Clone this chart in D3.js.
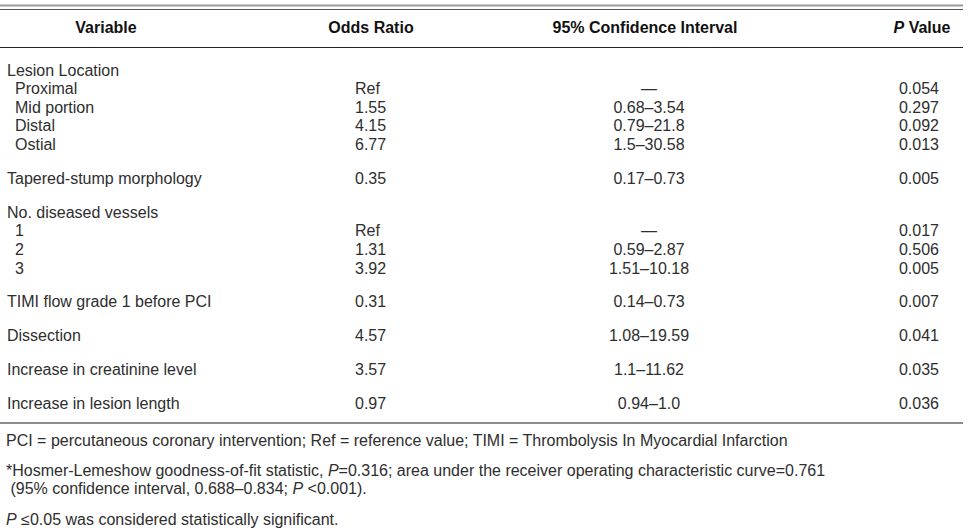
<!DOCTYPE html>
<html>
<head>
<meta charset="utf-8">
<script src="https://cdn.jsdelivr.net/npm/d3@7"></script>
<style>
  html, body { margin: 0; padding: 0; background: #fff; }
  svg { display: block; font-family: "Liberation Sans", Arial, Helvetica, sans-serif; }
</style>
</head>
<body>
<svg id="chart" width="972" height="530"></svg>
<script>
// ---- data ----
const headers = ["Variable", "Odds Ratio", "95% Confidence Interval", "P Value"];
// level: 0 = group / standalone variable, 1 = sub-item; block: index of row block
const variables = ["Lesion Location", "Proximal", "Mid portion", "Distal", "Ostial",
  "Tapered-stump morphology",
  "No. diseased vessels", "1", "2", "3",
  "TIMI flow grade 1 before PCI", "Dissection", "Increase in creatinine level", "Increase in lesion length"];
const levels = [0, 1, 1, 1, 1, 0, 0, 1, 1, 1, 0, 0, 0, 0];
const blocks = [0, 0, 0, 0, 0, 1, 2, 2, 2, 2, 3, 4, 5, 6];
const oddsRatios = ["", "Ref", "1.55", "4.15", "6.77", "0.35", "", "Ref", "1.31", "3.92", "0.31", "4.57", "3.57", "0.97"];
const confIntervals = ["", "—", "0.68–3.54", "0.79–21.8", "1.5–30.58", "0.17–0.73", "", "—", "0.59–2.87", "1.51–10.18", "0.14–0.73", "1.08–19.59", "1.1–11.62", "0.94–1.0"];
const pValues = ["", "0.054", "0.297", "0.092", "0.013", "0.005", "", "0.017", "0.506", "0.005", "0.007", "0.041", "0.035", "0.036"];
const footnotes = [
  [{t: "PCI = percutaneous coronary intervention; Ref = reference value; TIMI = Thrombolysis In Myocardial Infarction"}],
  [{t: "*Hosmer-Lemeshow goodness-of-fit statistic, "}, {t: "P", i: true}, {t: "=0.316; area under the receiver operating characteristic curve=0.761"}],
  [{t: " (95% confidence interval, 0.688–0.834; "}, {t: "P", i: true}, {t: " <0.001)."}],
  [{t: "P", i: true}, {t: " ≤0.05 was considered statistically significant."}]
];

// ---- layout ----
const svg = d3.select("#chart");
const left = 0, right = 963;
const textColor = "#2e2e2e";
const fs = 16;

const colX = d3.scaleOrdinal().domain(headers).range([106, 371, 645, 922]);

const slots = variables.map((v, i) => i + blocks[i] * 0.82);
const yRow = d3.scaleLinear().domain([0, 1]).range([70, 88.6]);

// top rules
svg.append("line").attr("x1", left).attr("x2", right).attr("y1", 5.5).attr("y2", 5.5)
  .attr("stroke", "#9a9a9a").attr("stroke-width", 2);
svg.append("line").attr("x1", left).attr("x2", right).attr("y1", 9.5).attr("y2", 9.5)
  .attr("stroke", "#555").attr("stroke-width", 1.2);
// header rule
svg.append("line").attr("x1", left).attr("x2", right).attr("y1", 47.5).attr("y2", 47.5)
  .attr("stroke", "#222").attr("stroke-width", 1.2);
// bottom rule
svg.append("line").attr("x1", left).attr("x2", right).attr("y1", 423).attr("y2", 423)
  .attr("stroke", "#666").attr("stroke-width", 1.5);

// headers
const hdr = svg.append("g").attr("font-weight", "bold").attr("font-size", fs).attr("fill", "#111");
headers.forEach(h => {
  const t = hdr.append("text").attr("x", colX(h)).attr("y", 27).attr("dy", "0.35em")
    .attr("text-anchor", "middle");
  if (h === "P Value") {
    t.append("tspan").attr("font-style", "italic").text("P");
    t.append("tspan").text(" Value");
  } else {
    t.text(h);
  }
});

// body rows
const body = svg.append("g").attr("font-size", fs).attr("fill", textColor);
const rows = body.selectAll("g.row").data(variables.map((v, i) => ({
  v, level: levels[i], or: oddsRatios[i], ci: confIntervals[i], p: pValues[i], y: yRow(slots[i])
}))).join("g").attr("class", "row");

rows.append("text").attr("x", d => d.level ? 15 : 7).attr("y", d => d.y).attr("dy", "0.35em")
  .text(d => d.v);
rows.append("text").attr("x", 355).attr("y", d => d.y).attr("dy", "0.35em")
  .text(d => d.or);
rows.append("text").attr("x", 649).attr("y", d => d.y).attr("dy", "0.35em").attr("text-anchor", "middle")
  .text(d => d.ci);
rows.append("text").attr("x", 939).attr("y", d => d.y).attr("dy", "0.35em").attr("text-anchor", "end")
  .text(d => d.p);

// footnotes
const fnY = [440, 470, 488, 519];
const fn = svg.append("g").attr("font-size", fs).attr("fill", textColor);
footnotes.forEach((parts, i) => {
  const t = fn.append("text").attr("x", 6).attr("y", fnY[i]).attr("dy", "0.35em")
    .attr("xml:space", "preserve").style("white-space", "pre");
  parts.forEach(p => {
    const s = t.append("tspan").text(p.t);
    if (p.i) s.attr("font-style", "italic");
  });
});
</script>
</body>
</html>
